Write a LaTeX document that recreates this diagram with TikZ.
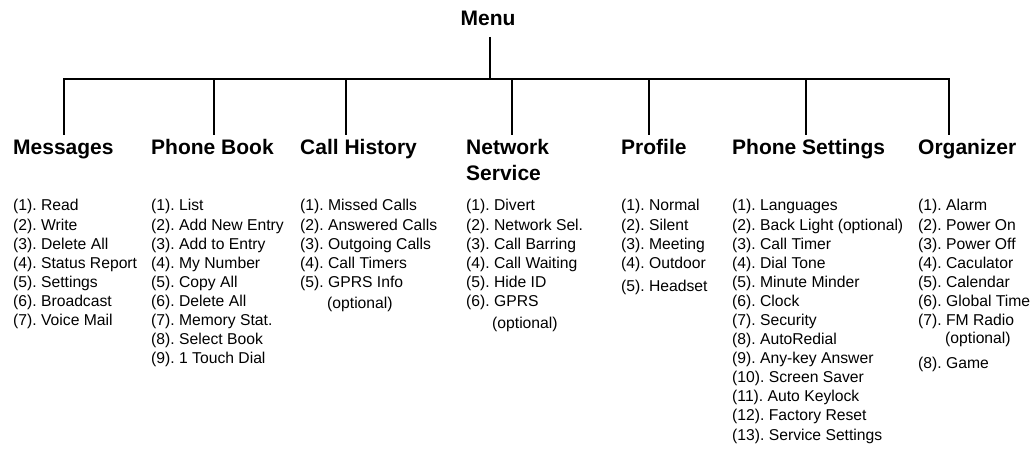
\documentclass[tikz,border=0pt]{standalone}
\usepackage{fontspec}
\setmainfont{Liberation Sans}
\begin{document}
\frenchspacing
\begin{tikzpicture}[x=1pt,y=-1pt,
  wire/.style={line width=1.8pt, line join=miter},
  head/.style={anchor=base west, inner sep=0pt, font=\fontsize{21}{25}\selectfont\bfseries},
  item/.style={anchor=base west, inner sep=0pt, font=\fontsize{15.7}{19}\selectfont\frenchspacing}]
\useasboundingbox (0,0) rectangle (1035,449);
% title
\node[anchor=base, inner sep=0pt, font=\fontsize{21}{25}\selectfont\bfseries] (menu) at (488,26) {Menu};
% tree coordinates
\coordinate (mtop) at (490,37);
\coordinate (bus) at (490,79);
\coordinate (d1) at (64,135);
\coordinate (d2) at (214,135);
\coordinate (d3) at (346,135);
\coordinate (d4) at (512,135);
\coordinate (d5) at (649,135);
\coordinate (d6) at (806,135);
\coordinate (d7) at (949,135);
\draw[wire] (mtop) -- (bus);
\draw[wire] (d1) -- (d1 |- bus) -- (d7 |- bus) -- (d7);
\foreach \d in {d2,d3,d4,d5,d6} \draw[wire] (\d |- bus) -- (\d);
% headers
\node[head] (hms) at (13,155) {Messages};
\node[head] (hpb) at (151,155) {Phone Book};
\node[head] (hch) at (300,155) {Call History};
\node[head] (hns) at (466,155) {\begin{tabular}[t]{@{}l@{}}Network\\Service\end{tabular}};
\node[head] (hpr) at (621,155) {Profile};
\node[head] (hps) at (732,155) {Phone Settings};
\node[head] (hor) at (918,155) {Organizer};
% Messages
\foreach \t [count=\i] in {{Read},{Write},{Delete All},{Status Report},{Settings},{Broadcast},{Voice Mail}}
  \node[item] (ms\i) at (13,{211+(\i-1)*19.05}) {(\i). \t};
% Phone Book
\foreach \t [count=\i] in {{List},{Add New Entry},{Add to Entry},{My Number},{Copy All},{Delete All},{Memory Stat.},{Select Book},{1 Touch Dial}}
  \node[item] (pb\i) at (151,{211+(\i-1)*19.05}) {(\i). \t};
% Call History
\foreach \t [count=\i] in {{Missed Calls},{Answered Calls},{Outgoing Calls},{Call Timers},{GPRS Info}}
  \node[item] (ch\i) at (300,{211+(\i-1)*19.05}) {(\i). \t};
\node[item] (chopt) at (327,308) {(optional)};
% Network Service
\foreach \t [count=\i] in {{Divert},{Network Sel.},{Call Barring},{Call Waiting},{Hide ID},{GPRS}}
  \node[item] (ns\i) at (466,{211+(\i-1)*19.05}) {(\i). \t};
\node[item] (nsopt) at (492,328) {(optional)};
% Profile
\foreach \t [count=\i] in {{Normal},{Silent},{Meeting},{Outdoor}}
  \node[item] (pr\i) at (621,{211+(\i-1)*19.05}) {(\i). \t};
\node[item] (pr5) at (621,291) {(5). Headset};
% Phone Settings
\foreach \t [count=\i] in {{Languages},{Back Light (optional)},{Call Timer},{Dial Tone},{Minute Minder},{Clock},{Security},{AutoRedial},{Any-key Answer},{Screen Saver},{Auto Keylock},{Factory Reset}}
  \node[item] (ps\i) at (732,{211+(\i-1)*19.05}) {(\i). \t};
\node[item] (ps13) at (732,440) {(13). Service Settings};
% Organizer
\foreach \t [count=\i] in {{Alarm},{Power On},{Power Off},{Caculator},{Calendar},{Global Time},{FM Radio}}
  \node[item] (or\i) at (918,{211+(\i-1)*19.05}) {(\i). \t};
\node[item] (oropt) at (945,343) {(optional)};
\node[item] (or8) at (918,368) {(8). Game};
\end{tikzpicture}
\end{document}
